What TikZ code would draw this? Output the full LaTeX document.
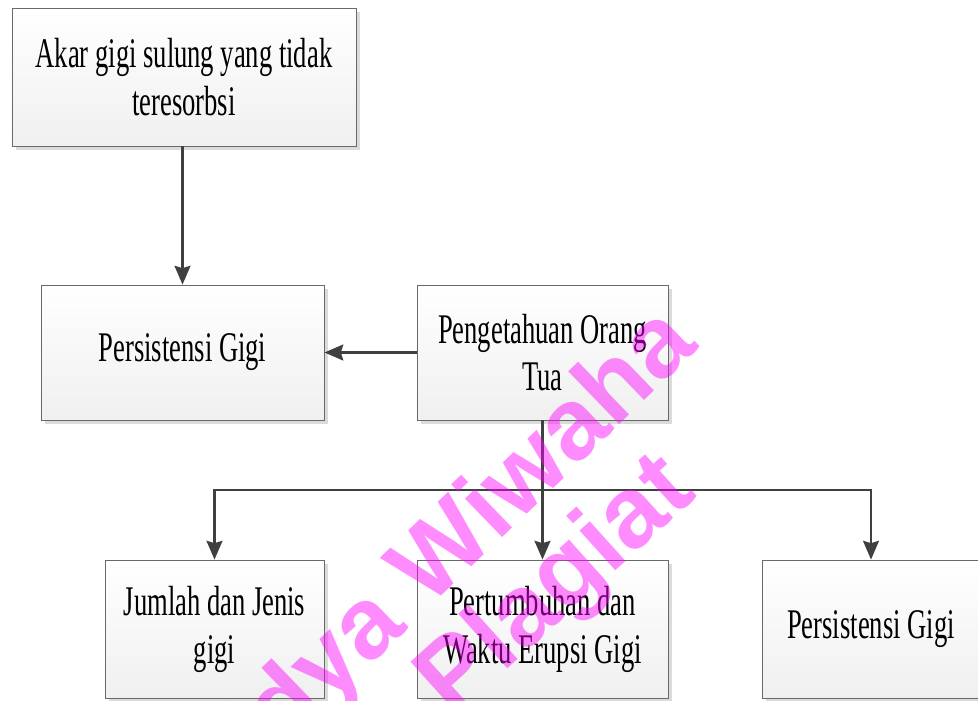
\documentclass[tikz,border=0pt]{standalone}
\usepackage{fontspec}
\setmainfont{Liberation Serif}[FakeStretch=0.63]
\newfontfamily\wmfont{Liberation Sans}
\usepackage{xcolor}
\usetikzlibrary{arrows.meta,positioning,shadows}
\definecolor{lnk}{RGB}{64,64,64}
\definecolor{edg}{RGB}{105,105,105}
\definecolor{wmpink}{RGB}{255,0,255}

\begin{document}
\begin{tikzpicture}[x=0.025cm,y=-0.025cm,
    blk/.style={rectangle,draw=edg,line width=0.6pt,top color=white,bottom color=gray!12,
      drop shadow={shadow xshift=0.1cm,shadow yshift=-0.1cm,fill=gray!28,opacity=1},
      align=center,inner sep=0pt,font=\fontsize{30}{34}\selectfont},
    arr/.style={-{Stealth[length=0.47cm,width=0.4cm,inset=0.06cm]},draw=lnk,line width=1.5pt},
    wm/.style={text=wmpink,opacity=0.45,font=\wmfont\bfseries\fontsize{72}{80}\selectfont,rotate=44}]
  \useasboundingbox (0,0) rectangle (978,700);
  % boxes
  \node[blk,minimum width=8.6cm,minimum height=3.45cm] (akar) at (184,77) {Akar gigi sulung yang tidak\\teresorbsi};
  \node[blk,minimum width=7.075cm,minimum height=3.375cm] (persist) at (182.5,352.5) {Persistensi Gigi};
  \node[blk,minimum width=6.275cm,minimum height=3.375cm] (tua) at (542.5,352.5) {Pengetahuan Orang\\Tua};
  \node[blk,minimum width=5.475cm,minimum height=3.45cm] (jumlah) at (214.5,629) {Jumlah dan Jenis\\gigi};
  \node[blk,minimum width=6.275cm,minimum height=3.45cm] (erupsi) at (542.5,629) {Pertumbuhan dan\\Waktu Erupsi Gigi};
  \node[blk,minimum width=5.45cm,minimum height=3.45cm] (persisb) at (871,629) {Persistensi Gigi};
  % connectors
  \coordinate (split) at (542.5,490);
  \draw[arr] (akar.south -| persist.north) -- (persist.north);
  \draw[arr] (tua.west) -- (persist.east);
  \draw[arr] (tua.south) -- (split) -| (jumlah.north);
  \draw[arr] (split) -| (persisb.north);
  \draw[arr] (split) -- (erupsi.north);
  % watermark
  \node[wm] (wmname) at (429,572) {Widya Wiwaha};
  \node[wm,rotate=-2] (wmtag) at (558,588) {Plagiat};
\end{tikzpicture}
\end{document}
